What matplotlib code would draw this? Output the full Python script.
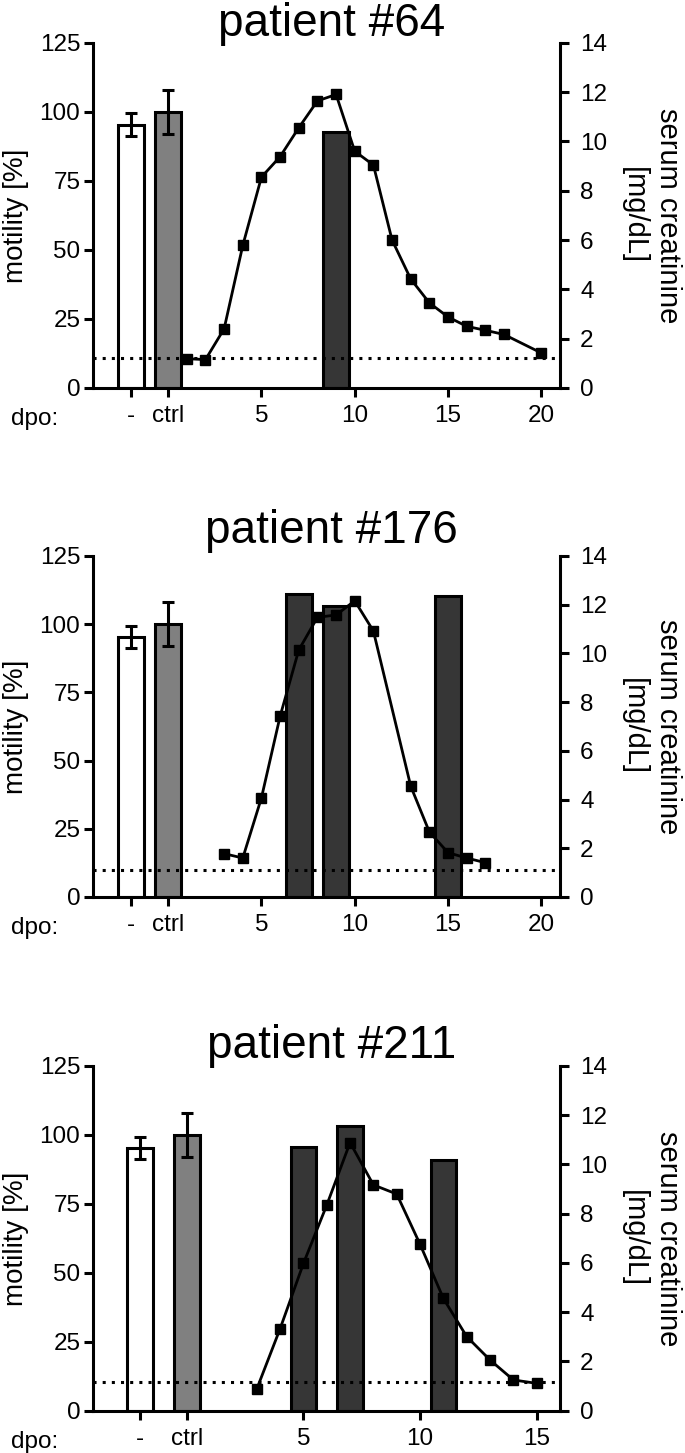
import matplotlib
matplotlib.use('Agg')
import matplotlib.pyplot as plt

plt.rcParams['font.family'] = ['Liberation Sans', 'DejaVu Sans']

# controls (same in every panel): untreated "-" and "ctrl"
ctrl_pos = [-2, 0]
ctrl_mean = [95.3, 100.0]
ctrl_sd = [4.1, 8.0]
ctrl_colors = ['white', '#808080']

# patient #64
p64_days = [1, 2, 3, 4, 5, 6, 7, 8, 9, 10, 11, 12, 13, 14, 15, 16, 17, 18, 20]
p64_crea = [1.19, 1.15, 2.4, 5.78, 8.55, 9.38, 10.55, 11.64, 11.9, 9.6, 9.04, 6.0, 4.42, 3.45, 2.88, 2.5, 2.34, 2.17, 1.42]
p64_tx_days = [9]
p64_tx_mot = [92.6]
p64_ref = 1.2

# patient #176
p176_days = [3, 4, 5, 6, 7, 8, 9, 10, 11, 13, 14, 15, 16, 17]
p176_crea = [1.78, 1.60, 4.07, 7.42, 10.14, 11.48, 11.58, 12.16, 10.92, 4.55, 2.67, 1.82, 1.60, 1.41]
p176_tx_days = [7, 9, 15]
p176_tx_mot = [111.2, 106.7, 110.3]
p176_ref = 1.1

# patient #211
p211_days = [3, 4, 5, 6, 7, 8, 9, 10, 11, 12, 13, 14, 15]
p211_crea = [0.88, 3.33, 5.98, 8.35, 10.89, 9.17, 8.80, 6.76, 4.56, 3.01, 2.06, 1.25, 1.11]
p211_tx_days = [5, 7, 11]
p211_tx_mot = [95.8, 103.3, 90.9]
p211_ref = 1.15

panels = [
    ('patient #64', p64_days, p64_crea, p64_tx_days, p64_tx_mot, p64_ref, [5, 10, 15, 20], (-4, 21), 1.4),
    ('patient #176', p176_days, p176_crea, p176_tx_days, p176_tx_mot, p176_ref, [5, 10, 15, 20], (-4, 21), 1.4),
    ('patient #211', p211_days, p211_crea, p211_tx_days, p211_tx_mot, p211_ref, [5, 10, 15], (-4, 16), 1.1),
]

W, H = 685, 1453
# axes boxes in pixels: (top, bottom), title baseline
boxes = [(42.7, 388.0, 36), (556.0, 897.0, 543), (1066.0, 1410.7, 1058)]
ax_left, ax_right = 93.5, 560.0

lw = 2.2
tick_fs = 17.5

fig = plt.figure(figsize=(W / 100, H / 100), dpi=100, facecolor='w')

for (title, days, crea, tx_days, tx_mot, ref, xt, xlim, bw), (top, bot, tb) in zip(panels, boxes):
    rect = [ax_left / W, 1 - bot / H, (ax_right - ax_left) / W, (bot - top) / H]
    ax = fig.add_axes(rect)
    ax2 = ax.twinx()

    # motility bars
    ax.bar(ctrl_pos, ctrl_mean, width=bw, color=ctrl_colors, edgecolor='k', linewidth=lw, zorder=2)
    ax.errorbar(ctrl_pos, ctrl_mean, yerr=ctrl_sd, fmt='none', ecolor='k',
                elinewidth=lw, capsize=4.5, capthick=lw, zorder=3)
    ax.bar(tx_days, tx_mot, width=bw, color='#363636', edgecolor='k', linewidth=lw, zorder=2)

    # serum creatinine
    ax2.axhline(ref, color='k', lw=2.2, ls=(0, (1, 2)), zorder=1)
    ax2.plot(days, crea, color='k', lw=2.0, marker='s', ms=7.5, zorder=3)

    ax.set_xlim(xlim)
    ax.set_ylim(0, 125)
    ax2.set_ylim(0, 14)
    ax.set_yticks([0, 25, 50, 75, 100, 125])
    ax2.set_yticks([0, 2, 4, 6, 8, 10, 12, 14])
    ax.set_xticks([-2, 0] + xt)
    ax.set_xticklabels(['-', 'ctrl'] + [str(v) for v in xt])

    for a in (ax, ax2):
        a.spines['top'].set_visible(False)
        for s in a.spines.values():
            s.set_linewidth(lw)
        a.patch.set_visible(False)
    ax2.spines['left'].set_visible(False)
    ax2.spines['bottom'].set_visible(False)
    ax.spines['right'].set_visible(False)

    ax.tick_params(axis='both', direction='out', length=6.5, width=lw, labelsize=tick_fs)
    ax.tick_params(axis='y', pad=3)
    ax.tick_params(axis='x', pad=6)
    ax2.tick_params(axis='y', direction='out', length=6.5, width=lw, labelsize=tick_fs, pad=8)

    ax.set_ylabel('motility [%]', fontsize=20, va='center')
    ax.yaxis.set_label_coords(-0.166, 0.5)
    ax2.set_ylabel('serum creatinine\n[mg/dL]', fontsize=21, rotation=270,
                   va='center', ha='center', linespacing=1.3)
    ax2.yaxis.set_label_coords(1.195, 0.5)

    ax.annotate('dpo:', xy=(11 / W, 0), xycoords=('figure fraction', 'axes fraction'),
                xytext=(0, -26.6), textcoords='offset points', va='baseline', ha='left',
                fontsize=tick_fs)

    fig.text(331.5 / W, 1 - tb / H, title, fontsize=33, ha='center', va='baseline')

fig.savefig('out.png', dpi=100, facecolor='w')
